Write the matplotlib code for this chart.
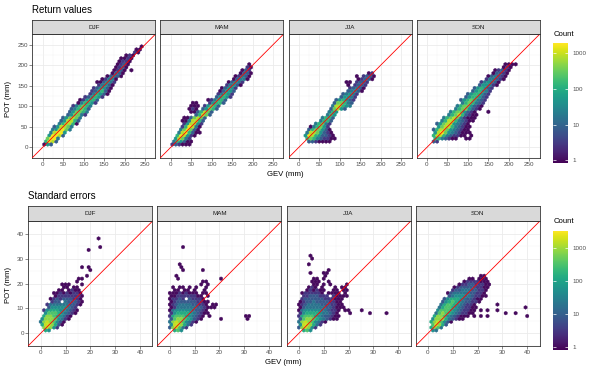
import numpy as np
import matplotlib
matplotlib.use("Agg")
import matplotlib.pyplot as plt
from matplotlib.colors import LogNorm

plt.rcParams["font.family"] = ["Liberation Sans", "DejaVu Sans"]

seasons = ["DJF", "MAM", "JJA", "SON"]
count_ticks = [1, 10, 100, 1000]
count_labels = ["1", "10", "100", "1000"]
ret_ticks = [0, 50, 100, 150, 200, 250]
se_ticks = [0, 10, 20, 30, 40]

# hex cell count codes ('.' = empty cell)
level_counts = {"1": 1, "2": 3, "3": 8, "4": 20, "5": 50, "6": 130,
                "7": 330, "8": 800, "9": 1600}

# rows of hex cells: (hex row, first hex column, count codes)
ret_djf = [
    (1, 0, "153"), (2, 1, "6983"), (3, 1, "7994"), (4, 2, "59983"),
    (5, 2, "48995"), (6, 3, "458974"), (7, 3, "358874"), (8, 5, "468861"),
    (9, 5, "358863"), (10, 6, "357874"), (11, 7, "357742"), (12, 8, "357764"),
    (13, 8, "346763"), (14, 9, "246764"), (15, 10, "146652"), (16, 11, "125663"),
    (17, 12, "235652"), (18, 14, "246531"), (19, 14, "235631"), (20, 15, "235531"),
    (21, 16, "24531"), (22, 16, "113542"), (23, 17, "12441"), (24, 19, "13431"),
    (25, 20, "1331"), (26, 21, "1231.1"), (27, 21, "1231"), (28, 22, "1231"),
    (29, 22, "1221"), (30, 23, "1121"), (31, 24, "121"), (32, 27, "21"),
    (33, 27, "11"), (34, 29, "1"),
]
ret_mam = [
    (1, 0, "232111"), (2, 1, "465311"), (3, 1, "58742"), (4, 2, "698521"),
    (5, 2, "4896311"), (6, 3, "479731"), (7, 3, "269841"), (8, 4, "258852"),
    (9, 3, "1148863"), (10, 4, "1137873"), (11, 7, "36873"), (12, 6, "1136873"),
    (13, 5, "121.35763"), (14, 6, "111.25763"), (15, 6, "11...25663"),
    (16, 11, "124663"), (17, 13, "35652"), (18, 14, "24652"), (19, 14, "13553"),
    (20, 15, "13552"), (21, 16, "24531"), (22, 17, "13542"), (23, 18, "13441"),
    (24, 19, "12431"), (25, 20, "1331"), (26, 21, "132"), (27, 22, "21"),
    (28, 23, "1"),
]
ret_jja = [
    (2, 3, "3321111"), (3, 2, "676432211"), (4, 2, "598653321"), (5, 2, "48875321"),
    (6, 3, "3677531"), (7, 3, "146752"), (8, 5, "46742"), (9, 6, "4663"),
    (10, 7, "4663"), (11, 8, "465"), (12, 9, "465"), (13, 9, "37853"),
    (14, 10, "488654"), (15, 10, "377643"), (16, 11, "356532"), (17, 12, "35542"),
    (18, 13, "34542"), (19, 14, "34431"), (20, 15, "23431"), (21, 14, "1.2332"),
    (22, 14, "11.2332"), (23, 17, "12331"), (24, 17, "1.2331"), (25, 20, "12"),
]
ret_son = [
    (2, 2, "32"), (3, 2, "6643211..11"), (4, 2, "6886432211.1"),
    (5, 2, "58975432111"), (6, 2, "36887543211"), (7, 3, "5788643211"),
    (8, 3, "3578854321"), (9, 4, "4688643211"), (10, 5, "4678742111"),
    (11, 6, "467863211"), (12, 7, "46775321...1"), (13, 8, "46775321"),
    (14, 9, "46775321"), (15, 10, "4676432"), (16, 10, "35676432"),
    (17, 11, "3566532"), (18, 12, "3566532"), (19, 13, "356542"),
    (20, 14, "356532"), (21, 15, "355421"), (22, 16, "245431"),
    (23, 17, "244321"), (24, 18, "134321"), (25, 19, "13321"),
    (26, 20, "12321"), (27, 22, "121"), (28, 23, "1111"),
]

se_djf = [
    (1, 1, "65"), (2, 1, "89852"), (3, 0, "6998631"), (4, 0, "48987531"),
    (5, 0, "588875421"), (6, 1, "688765421"), (7, 1, "5777654321"),
    (8, 1, "25666554321"), (9, 2, "355555432"), (10, 2, "24444443321"),
    (11, 3, "233.433321"), (12, 3, "1232333221"), (13, 4, "122222221"),
    (14, 4, "112121221"), (15, 5, "11.1211"), (16, 7, "11.11"),
    (17, 6, "111...1"), (18, 11, "1"), (19, 11, "11"), (20, 14, "1"),
    (22, 15, "1"), (23, 12, "1.1"), (29, 14, "1"), (30, 18, "1"), (33, 17, "1"),
]
se_mam = [
    (1, 1, "675"), (2, 0, "389742"), (3, 0, "5998642"), (4, 0, "489875421"),
    (5, 0, "3788765321.....1.......1"), (6, 0, "26777654321.1..........11"),
    (7, 0, "256666543211"), (8, 0, "145555543321"), (9, 0, "12444444332111"),
    (10, 0, "123444433221.11"), (11, 0, "123333332211"), (12, 0, "12232.32221"),
    (13, 0, "1122222211.1"), (14, 0, "111212111.11"), (15, 1, "11.11.1..1"),
    (16, 1, "1.11.1.1..1"), (17, 9, "1.1"), (18, 10, "11"), (19, 2, "1"),
    (19, 15, "1"), (20, 2, "1"), (22, 4, "1"), (22, 10, "1"), (23, 3, "1"),
    (24, 3, "1"), (30, 4, "1"),
]
se_jja = [
    (1, 1, "675"), (2, 0, "389852"), (3, 0, "5998642"), (4, 0, "489875421"),
    (5, 0, "378876543211"), (6, 0, "2677765433211"),
    (7, 0, "256666544321...1.....1....1"), (8, 0, "1455555443221.11...1"),
    (9, 0, "13444444332111"), (10, 0, "12344443332211"), (11, 0, "1233433332211"),
    (12, 1, "2333333222111"), (13, 1, "22333222.21111"), (14, 1, "1222221.1111.1"),
    (15, 2, "121211..11.11"), (16, 3, "121.1...1.11"), (17, 4, "11.1.1....1"),
    (18, 4, "111..1"), (19, 4, "11.1"), (20, 8, "1"), (21, 3, "1...11"),
    (22, 9, "1"), (24, 3, "1"), (26, 4, "1"), (27, 3, "1"),
]
se_son = [
    (1, 1, "54"), (2, 1, "6874"), (3, 1, "79863"), (4, 1, "6897531"),
    (5, 1, "5888643211"), (6, 2, "68875432111.1.1.1...........1"),
    (7, 2, "478765432211.........1..1"), (8, 3, "577765432211.1.1..1"),
    (9, 3, "467765432211..............1"), (10, 4, "46776543221......1"),
    (11, 4, "356765433221"), (12, 5, "356665433211"), (13, 6, "345554432211"),
    (14, 6, "134444433221"), (15, 7, "23344433221"), (16, 8, "12333332211"),
    (17, 9, "1223322211"), (18, 11, "12222111"), (19, 12, "11.111"), (20, 16, "11"),
]

W, H = 598, 374
fig = plt.figure(figsize=(W / 100, H / 100), dpi=100)


def box(x0, y0, x1, y1):
    return fig.add_axes([x0 / W, 1 - y1 / H, (x1 - x0) / W, (y1 - y0) / H])


def hex_points(rows, sx):
    sy = sx * np.sqrt(3)
    xs, ys, cs = [], [], []
    for r, c0, codes in rows:
        for k, ch in enumerate(codes):
            if ch != ".":
                xs.append((c0 + k + 0.5 * (r % 2)) * sx)
                ys.append(r * sy / 2)
                cs.append(level_counts[ch])
    return np.array(xs), np.array(ys), np.array(cs, dtype=float)


def panel(x0, top, w, h, strip_h, rows, sx, lim, ticks, norm, season, first):
    sy = sx * np.sqrt(3)
    ax = box(x0, top + strip_h, x0 + w, top + strip_h + h)
    x, y, c = hex_points(rows, sx)
    ax.hexbin(x, y, C=c, gridsize=(30, 18), extent=(0, 30 * sx, 0, 18 * sy),
              reduce_C_function=np.max, cmap="viridis", norm=norm,
              linewidths=0.25, edgecolors="face", zorder=2)
    ax.axline((0, 0), slope=1, color="red", lw=0.6, zorder=3)
    ax.set_xlim(lim)
    ax.set_ylim(lim)
    ax.set_xticks(ticks)
    ax.set_yticks(ticks)
    step = ticks[1] - ticks[0]
    minor = np.arange(ticks[0] - step / 2, ticks[-1] + step, step)
    ax.set_xticks(minor, minor=True)
    ax.set_yticks(minor, minor=True)
    ax.grid(True, which="major", color="#ebebeb", lw=0.6)
    ax.grid(True, which="minor", color="#f3f3f3", lw=0.35)
    ax.set_axisbelow(True)
    ax.tick_params(which="minor", length=0)
    ax.tick_params(which="major", length=2, width=0.4, color="#333333",
                   labelsize=4.5, labelcolor="#4d4d4d", pad=1.2)
    if not first:
        ax.tick_params(left=False, labelleft=False)
    for s in ax.spines.values():
        s.set_color("#333333")
        s.set_linewidth(0.6)
    st = box(x0, top, x0 + w, top + strip_h)
    st.set_facecolor("#d9d9d9")
    st.set_xticks([])
    st.set_yticks([])
    for s in st.spines.values():
        s.set_color("#333333")
        s.set_linewidth(0.6)
    st.text(0.5, 0.5, season, ha="center", va="center", fontsize=4.5,
            color="#1a1a1a", transform=st.transAxes)
    return ax


def colorbar(norm, y0, y1, y_title):
    cax = box(553.3, y0, 567.7, y1)
    sm = plt.cm.ScalarMappable(norm=norm, cmap="viridis")
    cb = fig.colorbar(sm, cax=cax)
    cb.outline.set_visible(False)
    cb.set_ticks(count_ticks, labels=count_labels)
    cb.minorticks_off()
    cax.tick_params(direction="in", length=2.5, width=0.5, colors="white",
                    left=True, right=True, labelcolor="#4d4d4d",
                    labelsize=4.5, pad=3.5)
    fig.text(553.3 / W, 1 - y_title / H, "Count", fontsize=5.6,
             ha="left", va="center")


ret_rows = [ret_djf, ret_mam, ret_jja, ret_son]
se_rows = [se_djf, se_mam, se_jja, se_son]

norm_ret = LogNorm(0.82, 1900)
norm_se = LogNorm(0.82, 3300)

for i, s in enumerate(seasons):
    panel(32.3 + 128.1 * i, 20, 123, 123.4, 14.3, ret_rows[i], 250 / 30,
          (-12.5, 262.5), ret_ticks, norm_ret, s, i == 0)
    panel(28.3 + 129.1 * i, 206, 124, 124.4, 15.3, se_rows[i], 40 / 30,
          (-2, 42), se_ticks, norm_se, s, i == 0)

colorbar(norm_ret, 43.3, 163.3, 35)
colorbar(norm_se, 230.7, 350, 221.7)

fig.text(32.3 / W, 1 - 10 / H, "Return values", fontsize=7, ha="left", va="center")
fig.text(28.3 / W, 1 - 196 / H, "Standard errors", fontsize=7, ha="left", va="center")
fig.text(285.8 / W, 1 - 175 / H, "GEV (mm)", fontsize=5.6, ha="center", va="center")
fig.text(283.8 / W, 1 - 362.5 / H, "GEV (mm)", fontsize=5.6, ha="center", va="center")
fig.text(8.3 / W, 1 - 99 / H, "POT (mm)", fontsize=5.6, ha="center", va="center",
         rotation=90)
fig.text(8.3 / W, 1 - 285 / H, "POT (mm)", fontsize=5.6, ha="center", va="center",
         rotation=90)

fig.savefig("out.png", dpi=100)
